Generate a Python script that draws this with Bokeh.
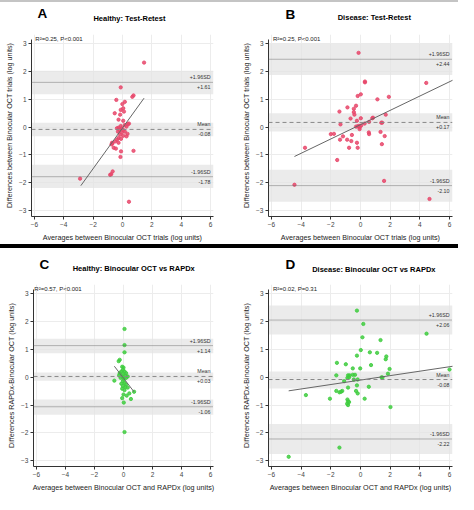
from bokeh.plotting import figure
from bokeh.models import Label, Span, BoxAnnotation, FixedTicker, Div
from bokeh.layouts import column, row
from bokeh.embed import file_html
from bokeh.resources import INLINE

# ---------------- data ----------------
# Panel A: Healthy, test-retest
a_x = [1.47, -0.12, 0.75, 0.67, -0.42, 0.16, -0.01, 0.05, -0.12, 0.10, -0.53, -0.16, -0.27, 0.05,
       0.38, 0.16, -0.12, -0.27, -0.38, -0.05, 0.27, 0.05, -0.21, -0.31, -0.05, 0.16, 0.34, -0.16, 0.05,
       -0.27, -0.49, -0.71, -0.75, -0.10, 0.27, 0.44, -0.38, -0.27, -0.60, -0.45, -0.10, 0.75, -0.14,
       -0.67, -0.77, -0.84, -2.89, 0.44, -0.68]
a_y = [2.32, 1.43, 1.14, 1.09, 0.98, 0.91, 0.83, 0.68, 0.62, 0.56, 0.50, 0.45, 0.27, 0.23,
       0.11, 0.08, 0.04, -0.02, -0.04, -0.04, 0.02, -0.10, -0.10, -0.16, -0.19, -0.16, -0.24, -0.27, -0.31,
       -0.39, -0.51, -0.56, -0.62, -0.42, -0.33, 0.13, -0.45, -0.56, -0.74, -0.77, -0.87, -0.85, -1.07,
       -1.59, -1.69, -1.71, -1.85, -2.68, -0.58]
a_fit = [0.73, -0.03]            # slope, intercept
a_fit_x = [-2.84, 1.47]
a_limits = [1.61, -0.08, -1.78]  # +1.96SD, mean, -1.96SD
a_bands = [[1.18, 2.03], [-0.33, 0.16], [-2.19, -1.35]]
a_stats = "R\u00b2=0.25, P<0.001"

# Panel B: Disease, test-retest
b_x = [-0.13, 0.30, 0.30, 4.43, -0.19, 0.02, 1.91, 1.14, -1.42, -0.88, -0.45, -0.45, -0.30, -0.41,
       -0.67, 0.02, 0.84, 0.80, 1.70, -0.24, 0.58, 1.46, 1.40, -1.35, -0.20, -0.30, -0.10, 0.05, -0.05,
       0.28, -2.00, -1.79, -1.18, -0.58, 0.56, 0.58, 1.35, 1.63, -1.38, -0.90, -0.62, -0.24, 1.44,
       -3.74, -0.77, -0.19, -1.57, 1.59, -4.45, 4.65, -0.06]
b_y = [2.67, 1.64, 1.61, 1.59, 1.12, 1.18, 1.09, 1.00, 0.56, 0.71, 0.66, 0.54, 0.77, 0.45,
       0.31, 0.32, 0.34, 0.32, 0.45, 0.23, 0.19, 0.16, 0.16, 0.10, 0.03, 0.02, 0.05, 0.06, 0.00,
       0.13, -0.25, -0.24, -0.33, -0.28, -0.19, -0.25, -0.17, -0.32, -0.45, -0.45, -0.50, -0.56, -0.61,
       -0.74, -0.74, -0.74, -1.18, -1.93, -2.07, -2.58, -0.07]
b_fit = [0.257, 0.09]
b_fit_x = [-4.45, 6.4]
b_limits = [2.44, 0.17, -2.10]
b_bands = [[1.87, 3.00], [-0.16, 0.50], [-2.68, -1.53]]
b_stats = "R\u00b2=0.25, P<0.001"

# Panel C: Healthy, binocular OCT vs RAPDx
c_x = [0.07, 0.07, 0.07, -0.26, -0.33, -0.09, 0.00, -0.04, -0.15, 0.07, -0.26, -0.04, 0.18, -0.30,
       -0.09, 0.13, -0.20, 0.00, 0.18, 0.29, -0.63, -0.04, 0.07, -0.15, 0.18, -0.04, 0.13, 0.29,
       -0.09, 0.07, 0.40, 0.73, 0.22, 0.00, 0.51, -0.09, 0.02, 0.07]
c_y = [1.74, 1.16, 0.90, 0.63, 0.58, 0.38, 0.35, 0.26, 0.21, 0.21, 0.15, 0.11, 0.15, 0.07,
       0.03, 0.07, -0.02, -0.05, -0.02, 0.03, -0.12, -0.14, -0.20, -0.23, -0.26, -0.31, -0.35, -0.37,
       -0.41, -0.46, -0.58, -0.52, -0.66, -0.62, -0.78, -0.75, -0.91, -1.97]
c_fit = [-0.68, -0.03]
c_fit_x = [-0.63, 0.73]
c_limits = [1.14, 0.03, -1.06]
c_bands = [[0.87, 1.39], [-0.12, 0.17], [-1.35, -0.80]]
c_stats = "R\u00b2=0.57, P<0.001"

# Panel D: Disease, binocular OCT vs RAPDx
d_x = [-0.24, 0.19, 4.45, 0.13, 1.35, 0.02, 0.63, 1.12, -0.24, 1.74, 1.70, -1.59, -0.99, 0.71,
       -0.52, -0.02, 1.96, 6.00, 1.85, -1.63, -0.84, -0.73, -0.52, -0.37, -0.88, -0.77, -0.45, -0.19,
       1.48, 1.42, -1.10, 0.56, -0.24, -0.84, -1.63, -1.42, -1.31, -1.23, -0.30, -0.19, -3.68, -2.06,
       -0.88, -0.84, -0.90, -0.84, -0.77, 0.28, 2.02, -1.42, -4.84]
d_y = [2.40, 1.92, 1.57, 1.44, 1.34, 0.98, 0.90, 0.88, 0.78, 0.75, 0.65, 0.52, 0.47, 0.44,
       0.32, 0.32, 0.30, 0.28, 0.13, 0.07, 0.07, 0.07, 0.09, 0.09, -0.02, 0.00, -0.08, -0.08,
       -0.01, 0.00, -0.14, -0.34, -0.29, -0.37, -0.49, -0.54, -0.52, -0.49, -0.49, -0.58, -0.64, -0.77,
       -0.80, -0.87, -0.95, -1.00, -0.89, -0.77, -1.07, -2.53, -2.86]
d_fit = [0.08, -0.10]
d_fit_x = [-4.84, 6.4]
d_limits = [2.06, -0.08, -2.22]
d_bands = [[1.54, 2.58], [-0.40, 0.21], [-2.76, -1.68]]
d_stats = "R\u00b2=0.02, P=0.31"

letters = ["A", "B", "C", "D"]
titles = ["Healthy: Test-Retest", "Disease: Test-Retest",
          "Healthy: Binocular OCT vs RAPDx", "Disease: Binocular OCT vs RAPDx"]
x_labels = ["Averages between Binocular OCT trials (log units)",
            "Averages between Binocular OCT trials (log units)",
            "Averages between Binocular OCT and RAPDx (log units)",
            "Averages between Binocular OCT and RAPDx (log units)"]
y_labels = ["Differences between Binocular OCT trials (log units)",
            "Differences between Binocular OCT trials (log units)",
            "Differences RAPDx-Binocular OCT (log units)",
            "Differences RAPDx-Binocular OCT (log units)"]
x_ticks = [-6, -4, -2, 0, 2, 4, 6]
y_ticks = [-3, -2, -1, 0, 1, 2, 3]

RED = "#E8486B"
GREEN = "#3FCC3F"
FONT = "Liberation Sans"
XR = (-6.2, 6.2)
Y_LO, Y_HI = -3.21, 3.15


def fmt(v, sign=True):
    return ("+" if v > 0 and sign else "") + ("%.2f" % v)


def make_header(i, W, hh, letter_pos, title_pos):
    h = figure(width=W, height=hh, x_range=(0, W), y_range=(hh, 0), output_backend="svg",
               toolbar_location=None, x_axis_type=None, y_axis_type=None, title=None,
               min_border_left=0, min_border_right=0, min_border_top=0, min_border_bottom=0)
    h.outline_line_color = None
    h.background_fill_color = "white"
    h.border_fill_color = "white"
    h.xgrid.visible = False
    h.ygrid.visible = False
    h.add_layout(Label(x=letter_pos[0], y=letter_pos[1], text=letters[i], text_align="left",
                       text_baseline="middle", text_font=FONT, text_font_size="13.5px",
                       text_font_style="bold", text_color="black"))
    h.add_layout(Label(x=title_pos[0], y=title_pos[1], text=titles[i], text_align="center",
                       text_baseline="middle", text_font=FONT, text_font_size="7.5px",
                       text_font_style="bold", text_color="black"))
    return h


def make_panel(i, xs, ys, color, fit, fit_x, limits, bands, stats, geom, hdr, stats_pos):
    W, H, hh, bl, br, data_top, bb = geom
    Hm = H - hh
    bt = 2
    fl, fr, ft, fb = bl, W - br, bt, Hm - bb
    y_hi = Y_HI + (data_top - ft) / (fb - data_top) * (Y_HI - Y_LO)
    p = figure(width=W, height=Hm, x_range=XR, y_range=(Y_LO, y_hi), output_backend="svg",
               toolbar_location=None, min_border_left=bl, min_border_right=br,
               min_border_top=bt, min_border_bottom=bb)

    def dat(px, py):
        return (XR[0] + (px - fl) / (fr - fl) * (XR[1] - XR[0]),
                y_hi - (py - ft) / (fb - ft) * (y_hi - Y_LO))

    p.outline_line_color = None
    p.background_fill_color = "white"
    p.border_fill_color = "white"
    p.xaxis.ticker = FixedTicker(ticks=x_ticks)
    p.yaxis.ticker = FixedTicker(ticks=y_ticks)
    p.yaxis.bounds = (Y_LO, Y_HI)
    p.xgrid.grid_line_color = "#ececec"
    p.ygrid.grid_line_color = "#ececec"
    p.axis.axis_line_color = "#333333"
    p.axis.major_tick_line_color = "#333333"
    p.axis.major_tick_out = 3
    p.axis.major_tick_in = 0
    p.axis.minor_tick_line_color = None
    p.axis.major_label_text_font = FONT
    p.axis.major_label_text_font_size = "6.5px"
    p.axis.major_label_text_color = "#444444"
    p.axis.major_label_standoff = 2
    p.axis.axis_label_text_font = FONT
    p.axis.axis_label_text_font_size = "7.2px"
    p.axis.axis_label_text_font_style = "normal"
    p.xaxis.axis_label_text_color = "#222222"
    p.yaxis.axis_label_text_color = "#222222"
    p.xaxis.axis_label = x_labels[i]
    p.yaxis.axis_label = y_labels[i]
    p.xaxis.axis_label_standoff = 3
    p.yaxis.axis_label_standoff = 2

    for lo, hi in bands:
        p.add_layout(BoxAnnotation(bottom=lo, top=hi, fill_color="#e4e4e4", fill_alpha=0.75,
                                   line_color=None, level="underlay"))
    up, mean, low = limits
    p.add_layout(Span(location=up, dimension="width", line_color="#666666",
                      line_dash="1 1", line_width=0.9))
    p.add_layout(Span(location=low, dimension="width", line_color="#666666",
                      line_dash="1 1", line_width=0.9))
    p.add_layout(Span(location=mean, dimension="width", line_color="#888888",
                      line_dash="4 3", line_width=1))

    p.scatter(xs, ys, size=3.3, fill_color=color, line_color=color, fill_alpha=0.85,
              line_alpha=0.85)
    s, b = fit
    p.line(fit_x, [s * x + b for x in fit_x], line_color="#666666", line_width=1)

    tx = dat(fr - 3, 0)[0]
    texts = [(up, "+1.96SD", fmt(up)), (mean, "Mean", fmt(mean)), (low, "-1.96SD", fmt(low))]
    for yv, t1, t2 in texts:
        p.add_layout(Label(x=tx, y=yv, text=t1, text_align="right", text_baseline="middle",
                           y_offset=5, text_font=FONT, text_font_size="5.3px",
                           text_color="#333333"))
        p.add_layout(Label(x=tx, y=yv, text=t2, text_align="right", text_baseline="middle",
                           y_offset=-5, text_font=FONT, text_font_size="5.3px",
                           text_color="#333333"))

    x0, y0 = dat(*stats_pos)
    p.add_layout(Label(x=x0, y=y0, text=stats, text_align="left", text_baseline="middle",
                       text_font=FONT, text_font_size="6px", text_color="#222222"))
    header = make_header(i, W, hh, hdr[0], hdr[1])
    return column(header, p)


pA = make_panel(0, a_x, a_y, RED, a_fit, a_fit_x, a_limits, a_bands, a_stats,
                (229, 242, 30, 31, 16, 7, 28), ((7.7, 10.6), (123.2, 15.5)), (34.8, 6))
pB = make_panel(1, b_x, b_y, RED, b_fit, b_fit_x, b_limits, b_bands, b_stats,
                (229, 242, 30, 39, 6, 7, 28), ((21.3, 11.6), (131.7, 14.5)), (43.5, 6))
pC = make_panel(2, c_x, c_y, GREEN, c_fit, c_fit_x, c_limits, c_bands, c_stats,
                (229, 246, 34, 33, 16, 7.3, 27), ((7.7, 16), (127.5, 20)), (33.8, 7))
pD = make_panel(3, d_x, d_y, GREEN, d_fit, d_fit_x, d_limits, d_bands, d_stats,
                (229, 246, 34, 39, 6, 7.3, 27), ((21.3, 16), (131.1, 20.5)), (43.5, 7))

top_strip = Div(text="", width=458, height=2, margin=0, styles={"background-color": "#c4c4c4"})
mid_strip = Div(text="", width=458, height=4, margin=0, styles={"background-color": "#000000"})

layout = column(top_strip, row(pA, pB), mid_strip, row(pC, pD))
open("out.html", "w").write(file_html(layout, INLINE))
